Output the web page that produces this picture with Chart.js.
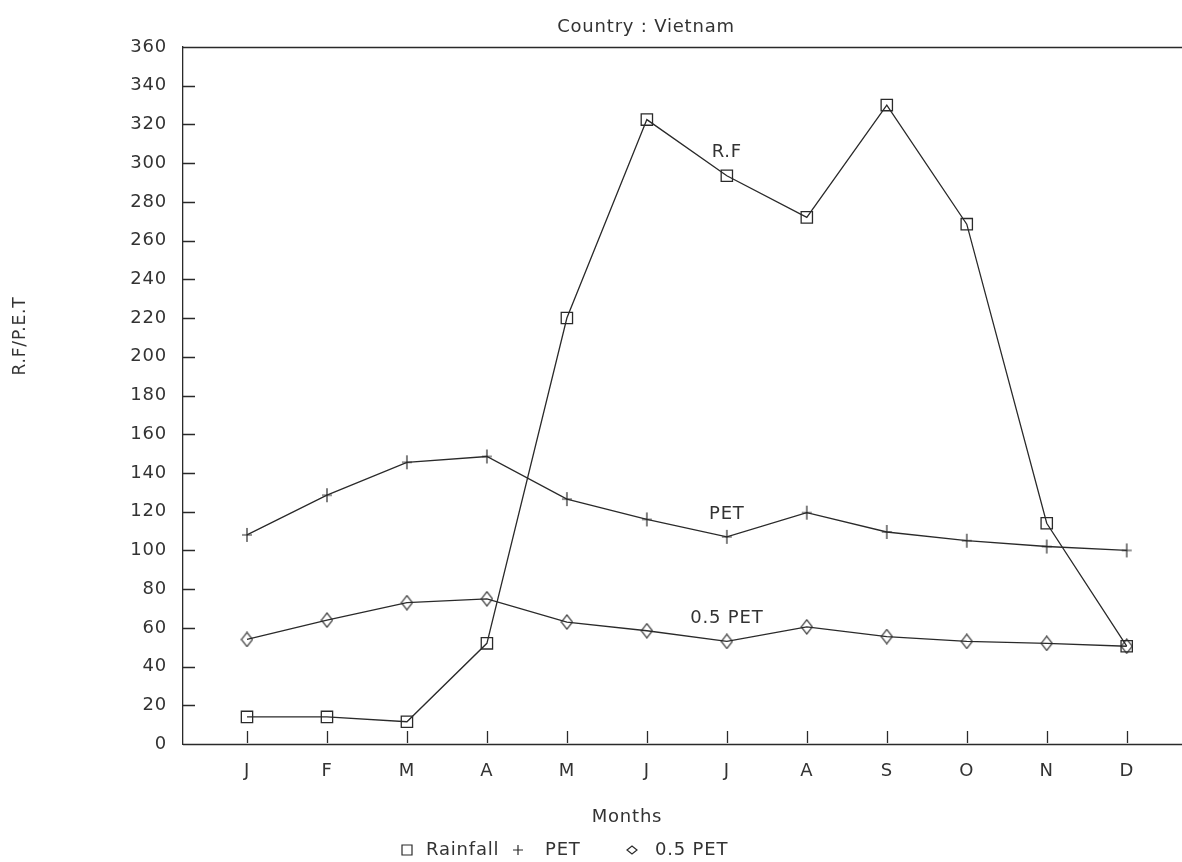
<!DOCTYPE html>
<html><head><meta charset="utf-8">
<script src="https://cdn.jsdelivr.net/npm/chart.js@4.4.0/dist/chart.umd.min.js"></script>
<style>html,body{margin:0;padding:0;background:#fff;overflow:hidden}#wrap{width:1182px;height:862px;position:relative;overflow:hidden}</style>
</head><body><div id="wrap"><canvas id="c" width="1182" height="862"></canvas></div>
<script>
const months = ['J','F','M','A','M','J','J','A','S','O','N','D'];
const monthIndex = [1,2,3,4,5,6,7,8,9,10,11,12];
const rainfall = [14, 14, 11.5, 52, 220, 322.5, 293.5, 272, 330, 268.5, 114, 50.5];
const pet = [108, 128.5, 145.5, 148.5, 126.5, 116, 107, 119.5, 109.5, 105, 102, 100];
const halfPet = [54, 64, 73, 75, 63, 58.5, 53, 60.5, 55.5, 53, 52, 50.5];
const seriesNames = ['Rainfall', 'PET', '0.5 PET'];
const inlineLabels = ['R.F', 'PET', '0.5 PET'];
const chartTitle = 'Country : Vietnam';
const xTitle = 'Months';
const yTitle = 'R.F/P.E.T';

const INK = '#2a2a2a';
const TXT = '#333';
const FONT = '"DejaVu Sans", sans-serif';
const SPACING = '0.8px';

function pts(arr){ return arr.map((v,i)=>({x: monthIndex[i], y: v})); }

function makeSymbol(kind, w, h){
  const c = document.createElement('canvas');
  c.width = w + 2; c.height = h + 2;
  const g = c.getContext('2d');
  g.strokeStyle = INK; g.lineWidth = 1.2;
  const cx = (w + 2) / 2, cy = (h + 2) / 2;
  g.beginPath();
  if (kind === 'diamond') {
    g.moveTo(cx - w/2, cy); g.lineTo(cx, cy - h/2); g.lineTo(cx + w/2, cy); g.lineTo(cx, cy + h/2); g.closePath();
  } else {
    g.moveTo(cx - w/2, cy); g.lineTo(cx + w/2, cy); g.moveTo(cx, cy - h/2); g.lineTo(cx, cy + h/2);
  }
  g.stroke();
  return c;
}
const diamondImg = makeSymbol('diamond', 11, 14);
const crossImg = makeSymbol('cross', 10, 14);

const decor = {
  id: 'decor',
  beforeInit(chart){ chart.ctx.letterSpacing = SPACING; },
  beforeDraw(chart){ chart.ctx.letterSpacing = SPACING; },
  beforeDatasetsDraw(chart){
    const {ctx, chartArea:a, scales:{x, y}} = chart;
    ctx.save();
    ctx.strokeStyle = INK; ctx.lineWidth = 1.3;
    ctx.beginPath();
    ctx.moveTo(a.left, a.top + 0.5); ctx.lineTo(1182, a.top + 0.5);
    y.ticks.forEach(t => {
      if (t.value === 0 || t.value === 360) return;
      const py = Math.round(y.getPixelForValue(t.value)) + 0.5;
      ctx.moveTo(a.left, py); ctx.lineTo(a.left + 12, py);
    });
    x.ticks.forEach(t => {
      const px = Math.round(x.getPixelForValue(t.value)) + 0.5;
      ctx.moveTo(px, a.bottom - 13); ctx.lineTo(px, a.bottom - 1);
    });
    ctx.moveTo(a.left, a.bottom + 0.5); ctx.lineTo(1182, a.bottom + 0.5);
    ctx.stroke();
    ctx.restore();
  },
  afterDraw(chart){
    const {ctx, chartArea:a, scales:{x, y}} = chart;
    ctx.save();
    ctx.letterSpacing = SPACING;
    ctx.fillStyle = TXT;
    ctx.textBaseline = 'middle';
    ctx.textAlign = 'center';
    ctx.font = '18px ' + FONT;
    ctx.fillText(chartTitle, 646, 27);
    ctx.fillText(xTitle, 627, 817);
    const series = [rainfall, pet, halfPet];
    series.forEach((s, i) => {
      const px = x.getPixelForValue(monthIndex[6]);
      const py = y.getPixelForValue(s[6]) - 23;
      ctx.fillText(inlineLabels[i], px, py);
    });
    ctx.save();
    ctx.translate(21, 336);
    ctx.rotate(-Math.PI/2);
    ctx.font = '17px ' + FONT;
    ctx.fillText(yTitle, 0, 0);
    ctx.restore();
    const ly = 850;
    ctx.font = '18px ' + FONT;
    ctx.textAlign = 'left';
    ctx.strokeStyle = INK; ctx.lineWidth = 1.2;
    const items = [
      {sym:'rect', sx:407, tx:426},
      {sym:'cross', sx:518, tx:545},
      {sym:'diamond', sx:632, tx:655}
    ];
    items.forEach((it, i) => {
      ctx.beginPath();
      if (it.sym === 'rect') ctx.rect(it.sx - 5, ly - 5, 10, 10);
      else if (it.sym === 'cross') { ctx.moveTo(it.sx - 5, ly); ctx.lineTo(it.sx + 5, ly); ctx.moveTo(it.sx, ly - 5); ctx.lineTo(it.sx, ly + 5); }
      else { ctx.moveTo(it.sx - 5, ly); ctx.lineTo(it.sx, ly - 4); ctx.lineTo(it.sx + 5, ly); ctx.lineTo(it.sx, ly + 4); ctx.closePath(); }
      ctx.stroke();
      ctx.fillText(seriesNames[i], it.tx, ly);
    });
    ctx.restore();
  }
};

const common = {borderColor: INK, borderWidth: 1.3, pointBorderColor: INK, pointBackgroundColor: 'rgba(0,0,0,0)', pointBorderWidth: 1.3, tension: 0, fill: false};

new Chart(document.getElementById('c'), {
  type: 'line',
  data: {
    datasets: [
      Object.assign({label: seriesNames[0], data: pts(rainfall), pointStyle: 'rect', pointRadius: 8}, common),
      Object.assign({label: seriesNames[1], data: pts(pet), pointStyle: crossImg, pointRadius: 7}, common),
      Object.assign({label: seriesNames[2], data: pts(halfPet), pointStyle: diamondImg, pointRadius: 7}, common)
    ]
  },
  options: {
    responsive: false,
    animation: false,
    devicePixelRatio: 1,
    layout: {padding: {top: 47, right: 0, bottom: 0, left: 0}},
    plugins: {legend: {display: false}, title: {display: false}, tooltip: {enabled: false}},
    scales: {
      x: {
        type: 'linear', min: 0.2, max: 12.575,
        afterBuildTicks: s => { s.ticks = monthIndex.map(v => ({value: v})); },
        afterFit: s => { s.height = 118; },
        grid: {display: false, drawTicks: false},
        border: {display: false},
        ticks: {callback: v => months[v - 1], font: {size: 18, family: FONT}, color: TXT, padding: 17, autoSkip: false, maxRotation: 0}
      },
      y: {
        min: 0, max: 360,
        afterFit: s => { s.width = 183; },
        grid: {display: false, drawTicks: false},
        border: {display: true, color: INK, width: 1.3},
        ticks: {stepSize: 20, font: {size: 18, family: FONT}, color: TXT, padding: 16}
      }
    }
  },
  plugins: [decor]
});
</script></body></html>
